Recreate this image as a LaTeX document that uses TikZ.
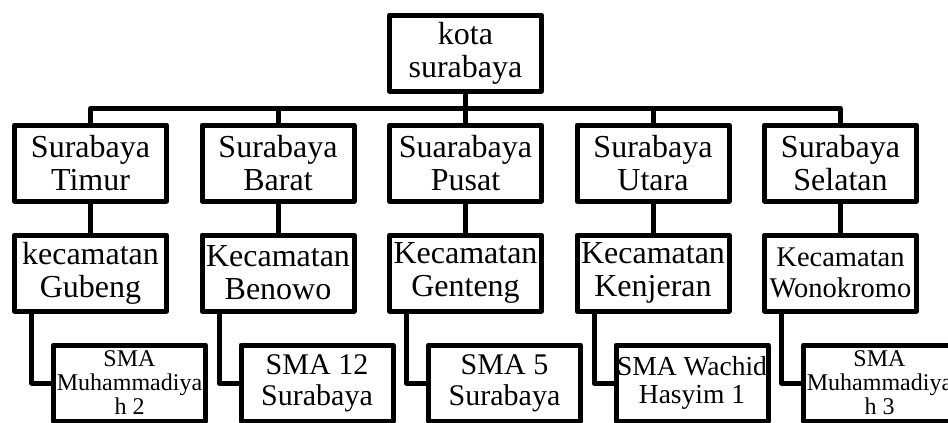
\documentclass[tikz,border=0pt]{standalone}
\usepackage{fontspec}
\setmainfont{Liberation Serif}
\usetikzlibrary{trees}

\begin{document}
\begin{tikzpicture}[nodes={draw, rectangle, align=center, minimum width=152pt, minimum height=76pt, inner sep=1pt, font=\fontsize{32}{33}\selectfont},
            line width=5pt, line join=round,
            level distance=110pt,
            level 1/.style={sibling distance=187.5pt},
            edge from parent path={(\tikzparentnode.south) -- +(0,-15pt) -| (\tikzchildnode.north)},
            level 3/.style={edge from parent path={([xshift=19.5pt]\tikzparentnode.south west) |- (\tikzchildnode.west)}},
            school/.style={xshift=39pt, font=\fontsize{30}{31}\selectfont},
            smallschool/.style={xshift=39pt, font=\fontsize{24}{24}\selectfont}]
            \useasboundingbox (0,0) rectangle (948pt,-423pt);
            \node (kota) at (465.5pt,-53pt) {kota\\surabaya}
            child {node (timur) {Surabaya\\Timur}
                child {node (gubeng) {kecamatan\\Gubeng}
                    child {node[smallschool] (muh2) {SMA\\Muhammadiya\\h 2}}}}
            child {node (barat) {Surabaya\\Barat}
                child {node (benowo) {Kecamatan\\Benowo}
                    child {node[school] (sma12) {SMA 12\\Surabaya}}}}
            child {node (pusat) {Suarabaya\\Pusat}
                child {node (genteng) {Kecamatan\\Genteng}
                    child {node[school] (sma5) {SMA 5\\Surabaya}}}}
            child {node (utara) {Surabaya\\Utara}
                child {node (kenjeran) {Kecamatan\\Kenjeran}
                    child {node[school, font=\fontsize{27.5}{28}\selectfont] (wachid) {SMA Wachid\\Hasyim 1}}}}
            child {node (selatan) {Surabaya\\Selatan}
                child {node[font=\fontsize{28.5}{31}\selectfont] (wonokromo) {Kecamatan\\Wonokromo}
                    child {node[smallschool] (muh3) {SMA\\Muhammadiya\\h 3}}}};
        \end{tikzpicture}
\end{document}
